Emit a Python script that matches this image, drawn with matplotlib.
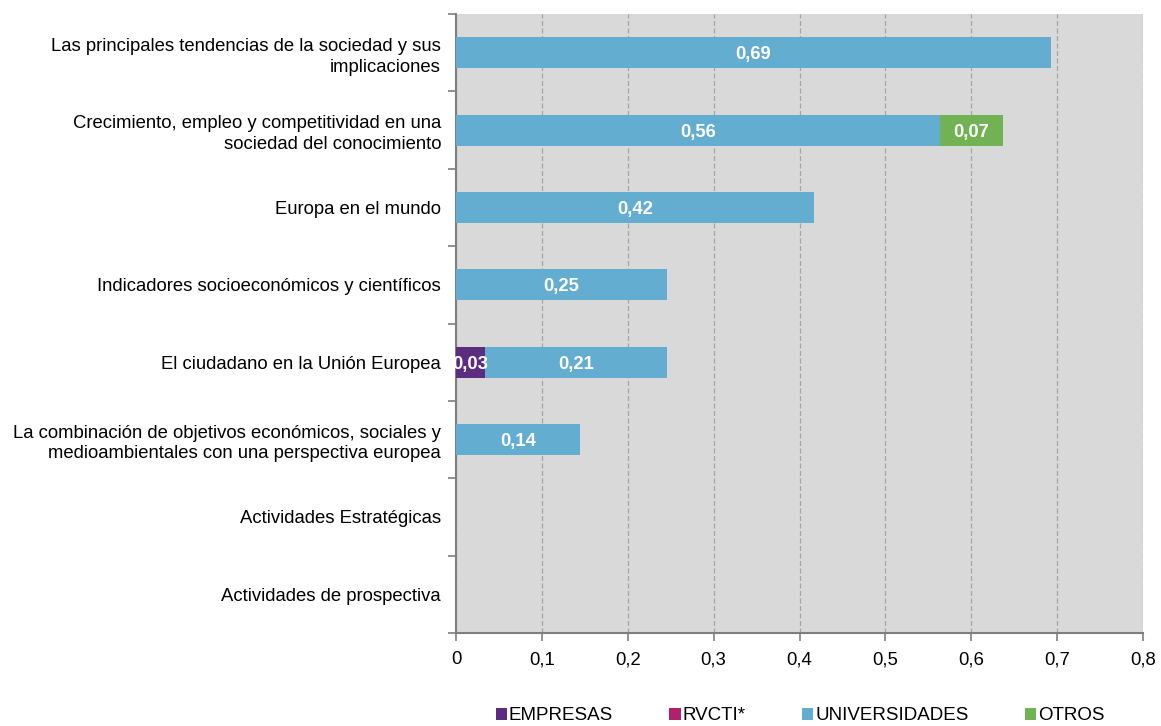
import matplotlib
matplotlib.use("Agg")
import matplotlib.pyplot as plt
from matplotlib.patches import Patch
import numpy as np

plt.rcParams['font.family'] = ['Liberation Sans', 'DejaVu Sans']

categories = [
    "Las principales tendencias de la sociedad y sus\nimplicaciones",
    "Crecimiento, empleo y competitividad en una\nsociedad del conocimiento",
    "Europa en el mundo",
    "Indicadores socioeconómicos y científicos",
    "El ciudadano en la Unión Europea",
    "La combinación de objetivos económicos, sociales y\nmedioambientales con una perspectiva europea",
    "Actividades Estratégicas",
    "Actividades de prospectiva",
]
series_names = ["EMPRESAS", "RVCTI*", "UNIVERSIDADES", "OTROS"]
empresas = [0, 0, 0, 0, 0.034, 0, 0, 0]
rvcti = [0, 0, 0, 0, 0, 0, 0, 0]
universidades = [0.693, 0.564, 0.417, 0.246, 0.212, 0.144, 0, 0]
otros = [0, 0.073, 0, 0, 0, 0, 0, 0]
xticks = [0, 0.1, 0.2, 0.3, 0.4, 0.5, 0.6, 0.7, 0.8]
xticklabels = ["0", "0,1", "0,2", "0,3", "0,4", "0,5", "0,6", "0,7", "0,8"]

colors = ["#5B2C7F", "#B2206B", "#63ADD1", "#71B253"]
FS = 13.3

fig = plt.figure(figsize=(11.61, 7.26), dpi=100)
ax = fig.add_axes([456/1161, 1-633/726, (1143-456)/1161, (633-14)/726])
ax.set_facecolor("#D9D9D9")

y = np.arange(len(categories))
left = np.zeros(len(categories))
for name, vals, c in zip(series_names, [empresas, rvcti, universidades, otros], colors):
    vals = np.array(vals)
    ax.barh(y, vals, left=left, height=0.4, color=c, edgecolor="none", zorder=3)
    for yi, (l, v) in enumerate(zip(left, vals)):
        if v > 0:
            ax.text(l + v/2, yi, f"{v:.2f}".replace(".", ","), ha="center", va="center_baseline",
                    color="white", fontsize=FS, fontweight="bold", zorder=4)
    left = left + vals

ax.set_xlim(0, 0.8)
ax.set_ylim(len(categories) - 0.5, -0.5)
ax.set_xticks(xticks)
ax.set_xticklabels(xticklabels, fontsize=FS)
ax.set_yticks(y)
ax.set_yticklabels(categories, fontsize=FS, linespacing=1.3)
ax.set_yticks(np.arange(-0.5, len(categories)), minor=True)
ax.tick_params(axis="y", which="major", length=0, pad=10.8)
ax.tick_params(axis="y", which="minor", length=6, color="#7F7F7F", width=1.2)
ax.tick_params(axis="x", which="major", length=6, color="#7F7F7F", width=1.2, pad=7)

ax.grid(axis="x", color="#A5A5A5", linestyle=(0, (4, 2)), linewidth=0.9, zorder=1)
for s in ["top", "right"]:
    ax.spines[s].set_visible(False)
for s in ["left", "bottom"]:
    ax.spines[s].set_color("#7F7F7F")
    ax.spines[s].set_linewidth(1.5)

handles = [Patch(facecolor=c, edgecolor="none") for c in colors]
fig.legend(handles, series_names, loc="center", bbox_to_anchor=(800/1161, 1-716/726),
           ncol=4, frameon=False, fontsize=13.5, handlelength=0.6, handleheight=0.6,
           handletextpad=0.1, columnspacing=3.0, borderpad=0.1)

fig.savefig("out.png", dpi=100)
